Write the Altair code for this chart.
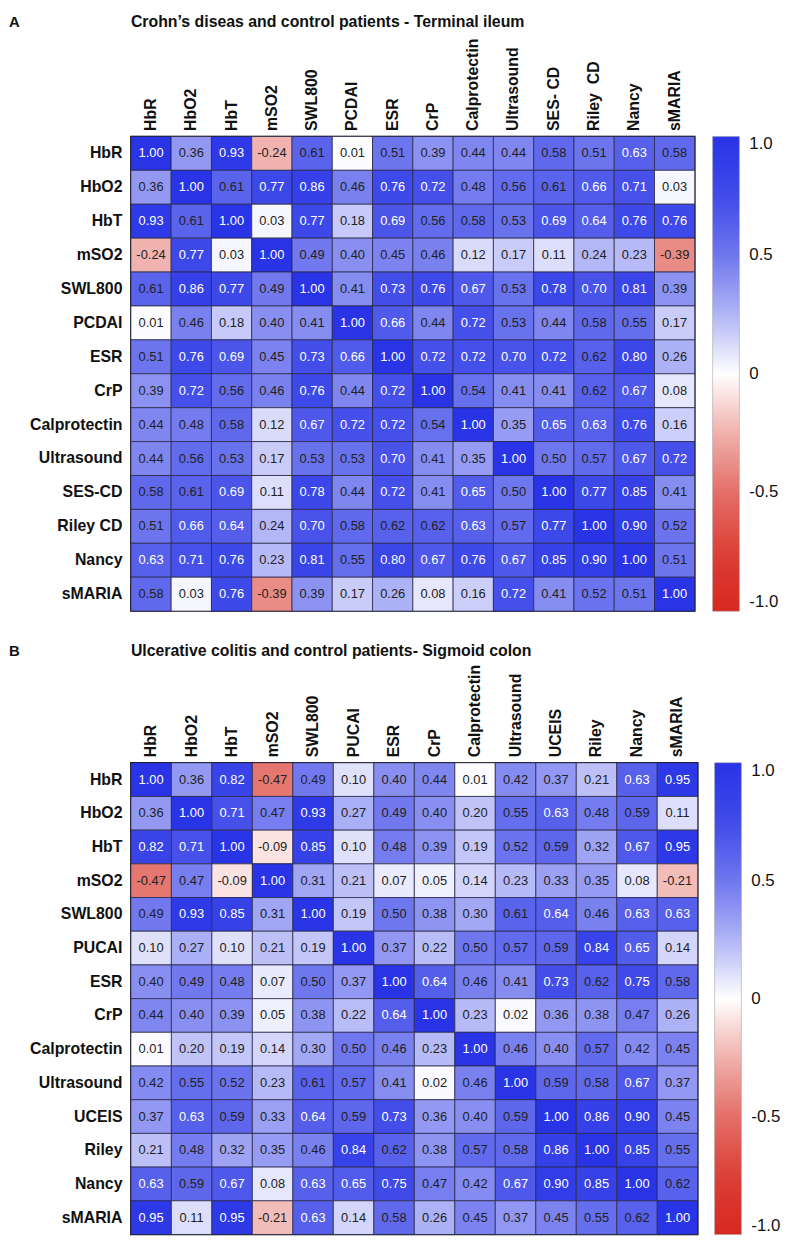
import altair as alt
import pandas as pd

# ---------------- Panel A: Crohn's disease ----------------
a_heading = "Crohn\u2019s diseas and control patients - Terminal ileum"
a_rows = ["HbR", "HbO2", "HbT", "mSO2", "SWL800", "PCDAI", "ESR", "CrP",
          "Calprotectin", "Ultrasound", "SES-CD", "Riley CD", "Nancy", "sMARIA"]
a_cols = ["HbR", "HbO2", "HbT", "mSO2", "SWL800", "PCDAI", "ESR", "CrP",
          "Calprotectin", "Ultrasound", "SES- CD", "Riley\u00a0\u00a0CD", "Nancy", "sMARIA"]
a_HbR = [1.00, 0.36, 0.93, -0.24, 0.61, 0.01, 0.51, 0.39, 0.44, 0.44, 0.58, 0.51, 0.63, 0.58]
a_HbO2 = [0.36, 1.00, 0.61, 0.77, 0.86, 0.46, 0.76, 0.72, 0.48, 0.56, 0.61, 0.66, 0.71, 0.03]
a_HbT = [0.93, 0.61, 1.00, 0.03, 0.77, 0.18, 0.69, 0.56, 0.58, 0.53, 0.69, 0.64, 0.76, 0.76]
a_mSO2 = [-0.24, 0.77, 0.03, 1.00, 0.49, 0.40, 0.45, 0.46, 0.12, 0.17, 0.11, 0.24, 0.23, -0.39]
a_SWL800 = [0.61, 0.86, 0.77, 0.49, 1.00, 0.41, 0.73, 0.76, 0.67, 0.53, 0.78, 0.70, 0.81, 0.39]
a_PCDAI = [0.01, 0.46, 0.18, 0.40, 0.41, 1.00, 0.66, 0.44, 0.72, 0.53, 0.44, 0.58, 0.55, 0.17]
a_ESR = [0.51, 0.76, 0.69, 0.45, 0.73, 0.66, 1.00, 0.72, 0.72, 0.70, 0.72, 0.62, 0.80, 0.26]
a_CrP = [0.39, 0.72, 0.56, 0.46, 0.76, 0.44, 0.72, 1.00, 0.54, 0.41, 0.41, 0.62, 0.67, 0.08]
a_Calprotectin = [0.44, 0.48, 0.58, 0.12, 0.67, 0.72, 0.72, 0.54, 1.00, 0.35, 0.65, 0.63, 0.76, 0.16]
a_Ultrasound = [0.44, 0.56, 0.53, 0.17, 0.53, 0.53, 0.70, 0.41, 0.35, 1.00, 0.50, 0.57, 0.67, 0.72]
a_SESCD = [0.58, 0.61, 0.69, 0.11, 0.78, 0.44, 0.72, 0.41, 0.65, 0.50, 1.00, 0.77, 0.85, 0.41]
a_RileyCD = [0.51, 0.66, 0.64, 0.24, 0.70, 0.58, 0.62, 0.62, 0.63, 0.57, 0.77, 1.00, 0.90, 0.52]
a_Nancy = [0.63, 0.71, 0.76, 0.23, 0.81, 0.55, 0.80, 0.67, 0.76, 0.67, 0.85, 0.90, 1.00, 0.51]
a_sMARIA = [0.58, 0.03, 0.76, -0.39, 0.39, 0.17, 0.26, 0.08, 0.16, 0.72, 0.41, 0.52, 0.51, 1.00]
a_values = [a_HbR, a_HbO2, a_HbT, a_mSO2, a_SWL800, a_PCDAI, a_ESR, a_CrP,
            a_Calprotectin, a_Ultrasound, a_SESCD, a_RileyCD, a_Nancy, a_sMARIA]

# ---------------- Panel B: Ulcerative colitis ----------------
b_heading = "Ulcerative colitis and control patients- Sigmoid colon"
b_rows = ["HbR", "HbO2", "HbT", "mSO2", "SWL800", "PUCAI", "ESR", "CrP",
          "Calprotectin", "Ultrasound", "UCEIS", "Riley", "Nancy", "sMARIA"]
b_cols = ["HbR", "HbO2", "HbT", "mSO2", "SWL800", "PUCAI", "ESR", "CrP",
          "Calprotectin", "Ultrasound", "UCEIS", "Riley", "Nancy", "sMARIA"]
b_HbR = [1.00, 0.36, 0.82, -0.47, 0.49, 0.10, 0.40, 0.44, 0.01, 0.42, 0.37, 0.21, 0.63, 0.95]
b_HbO2 = [0.36, 1.00, 0.71, 0.47, 0.93, 0.27, 0.49, 0.40, 0.20, 0.55, 0.63, 0.48, 0.59, 0.11]
b_HbT = [0.82, 0.71, 1.00, -0.09, 0.85, 0.10, 0.48, 0.39, 0.19, 0.52, 0.59, 0.32, 0.67, 0.95]
b_mSO2 = [-0.47, 0.47, -0.09, 1.00, 0.31, 0.21, 0.07, 0.05, 0.14, 0.23, 0.33, 0.35, 0.08, -0.21]
b_SWL800 = [0.49, 0.93, 0.85, 0.31, 1.00, 0.19, 0.50, 0.38, 0.30, 0.61, 0.64, 0.46, 0.63, 0.63]
b_PUCAI = [0.10, 0.27, 0.10, 0.21, 0.19, 1.00, 0.37, 0.22, 0.50, 0.57, 0.59, 0.84, 0.65, 0.14]
b_ESR = [0.40, 0.49, 0.48, 0.07, 0.50, 0.37, 1.00, 0.64, 0.46, 0.41, 0.73, 0.62, 0.75, 0.58]
b_CrP = [0.44, 0.40, 0.39, 0.05, 0.38, 0.22, 0.64, 1.00, 0.23, 0.02, 0.36, 0.38, 0.47, 0.26]
b_Calprotectin = [0.01, 0.20, 0.19, 0.14, 0.30, 0.50, 0.46, 0.23, 1.00, 0.46, 0.40, 0.57, 0.42, 0.45]
b_Ultrasound = [0.42, 0.55, 0.52, 0.23, 0.61, 0.57, 0.41, 0.02, 0.46, 1.00, 0.59, 0.58, 0.67, 0.37]
b_UCEIS = [0.37, 0.63, 0.59, 0.33, 0.64, 0.59, 0.73, 0.36, 0.40, 0.59, 1.00, 0.86, 0.90, 0.45]
b_Riley = [0.21, 0.48, 0.32, 0.35, 0.46, 0.84, 0.62, 0.38, 0.57, 0.58, 0.86, 1.00, 0.85, 0.55]
b_Nancy = [0.63, 0.59, 0.67, 0.08, 0.63, 0.65, 0.75, 0.47, 0.42, 0.67, 0.90, 0.85, 1.00, 0.62]
b_sMARIA = [0.95, 0.11, 0.95, -0.21, 0.63, 0.14, 0.58, 0.26, 0.45, 0.37, 0.45, 0.55, 0.62, 1.00]
b_values = [b_HbR, b_HbO2, b_HbT, b_mSO2, b_SWL800, b_PUCAI, b_ESR, b_CrP,
            b_Calprotectin, b_Ultrasound, b_UCEIS, b_Riley, b_Nancy, b_sMARIA]

# colour-bar ticks
legend_ticks = [1.0, 0.5, 0.0, -0.5, -1.0]

# ---------------- styling ----------------
SANS = "'Liberation Sans', Arial, sans-serif"
color_domain = [-1, -0.75, -0.5, -0.25, 0, 0.25, 0.5, 0.75, 1]
color_range = ["#d7281e", "#db3f37", "#e46f68", "#f0b0ac", "#ffffff",
               "#b0b4f6", "#6f77ee", "#3f4ae9", "#2834e6"]


def fmt(v):
    s = f"{abs(v):.2f}"
    return "-" + s if v < 0 else s


def panel(letter, heading, rows, cols, values, w, h, head_y, legend_offset):
    recs = []
    for i, r in enumerate(rows):
        for j, c in enumerate(cols):
            v = values[i][j]
            recs.append({"r": r, "c": c, "v": v, "s": fmt(v)})
    df = pd.DataFrame(recs)

    base = alt.Chart(df).encode(
        x=alt.X("c:N", sort=cols, scale=alt.Scale(paddingInner=0, paddingOuter=0),
                axis=alt.Axis(orient="top", labelAngle=270, ticks=False, domain=False,
                              labelPadding=6, labelFontSize=16, labelFontWeight="bold",
                              labelFont=SANS, labelColor="#111", title=None)),
        y=alt.Y("r:N", sort=rows, scale=alt.Scale(paddingInner=0, paddingOuter=0),
                axis=alt.Axis(ticks=False, domain=False, labelPadding=9,
                              labelFontSize=16, labelFontWeight="bold",
                              labelFont=SANS, labelColor="#111", title=None)),
    )
    rect = base.mark_rect(stroke="#2a2a4a", strokeWidth=0.8).encode(
        color=alt.Color(
            "v:Q",
            title=None,
            scale=alt.Scale(domain=color_domain, range=color_range, interpolate="rgb"),
            legend=alt.Legend(
                orient="right", direction="vertical", gradientLength=h,
                gradientThickness=27, values=legend_ticks,
                labelExpr="datum.value == 0 ? '0' : (datum.value < 0 ? '-' : '') + format(abs(datum.value), '.1f')",
                labelFontSize=17, labelFont=SANS, labelColor="#111",
                labelBaseline="middle", labelOffset=10, offset=legend_offset,
                gradientStrokeColor="#999", gradientStrokeWidth=0.5,
            ),
        )
    )
    text = base.mark_text(font=SANS, fontSize=13).encode(
        text="s:N",
        color=alt.condition("datum.v >= 0.625", alt.value("white"), alt.value("#222")),
    )
    hd = pd.DataFrame({"t": [heading], "l": [letter]})
    head = alt.Chart(hd).mark_text(
        align="left", baseline="middle", font=SANS, fontSize=16,
        fontWeight="bold", color="#111",
    ).encode(x=alt.value(0), y=alt.value(head_y), text="t:N")
    let = alt.Chart(hd).mark_text(
        align="left", baseline="middle", font=SANS, fontSize=15,
        fontWeight="bold", color="#111",
    ).encode(x=alt.value(-123), y=alt.value(head_y), text="l:N")
    return alt.layer(rect, text, head, let).properties(width=w, height=h)


pa = panel("A", a_heading, a_rows, a_cols, a_values, 569, 479, -115, 18)
pb = panel("B", b_heading, b_rows, b_cols, b_values, 572, 476, -113, 17)

chart = (
    alt.vconcat(pa, pb, spacing=29)
    .resolve_scale(color="independent")
    .resolve_legend(color="independent")
    .properties(padding=0)
    .configure_view(stroke="black", strokeWidth=1.5)
)

chart.save("out.html", embed_options={"renderer": "svg", "actions": False})
